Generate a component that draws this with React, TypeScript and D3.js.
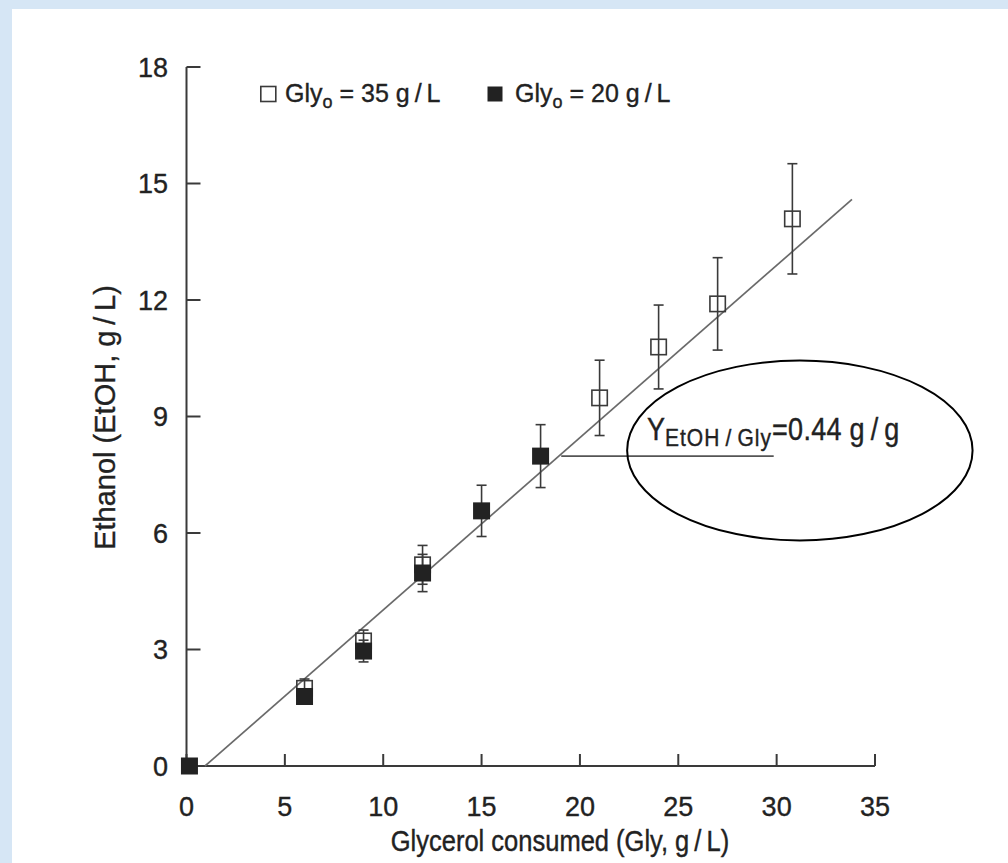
import React from "react";
import * as d3 from "d3";

// ---- data ----
const xTicks = [0, 5, 10, 15, 20, 25, 30, 35];
const yTicks = [0, 3, 6, 9, 12, 15, 18];

// Gly0 = 35 g/L (open squares)
const openX = [6, 9, 12, 21, 24, 27, 30.8];
const openY = [2.0, 3.22, 5.18, 9.48, 10.79, 11.9, 14.09];
const openErr = [0.24, 0.28, 0.5, 0.97, 1.08, 1.19, 1.42];

// Gly0 = 20 g/L (filled squares)
const filledX = [0.15, 6, 9, 12, 15, 18];
const filledY = [0, 1.79, 2.96, 4.97, 6.57, 7.98];
const filledErr = [0, 0, 0.28, 0.48, 0.66, 0.81];

// linear fit (yield 0.44 g/g)
const fitX = [0.94, 33.83];
const fitY = [0, 14.59];

// annotation leader line and ellipse extent (data units)
const leaderX = [19.05, 29.85];
const leaderY = 7.98;
const ellipseX = [22.4, 39.96];
const ellipseY = [5.81, 10.44];

const W = 1008;
const H = 863;
const TS = "\u2009"; // thin space around slashes

export default function App() {
  const x = d3.scaleLinear().domain([0, 35]).range([186.5, 875]);
  const y = d3.scaleLinear().domain([0, 18]).range([766, 67]);
  const axisColor = "#3a3a3a";
  const textColor = "#222";
  const font = "'Liberation Sans', Arial, Helvetica, sans-serif";
  const half = 8.5;
  const cap = 5;
  const tStroke = { stroke: textColor, strokeWidth: 0.35 };

  const line = d3.line<[number, number]>().x((d) => x(d[0])).y((d) => y(d[1]));
  const fitPts: [number, number][] = fitX.map((v, i) => [v, fitY[i]]);

  const errBar = (cx: number, cy: number, e: number, key: string) => {
    if (e <= 0) return null;
    const px = x(cx);
    const top = y(cy + e);
    const bot = y(cy - e);
    return (
      <g key={key} stroke={axisColor} strokeWidth={1.6}>
        <line x1={px} x2={px} y1={top} y2={bot} />
        <line x1={px - cap} x2={px + cap} y1={top} y2={top} />
        <line x1={px - cap} x2={px + cap} y1={bot} y2={bot} />
      </g>
    );
  };

  const ecx = (x(ellipseX[0]) + x(ellipseX[1])) / 2;
  const ecy = (y(ellipseY[0]) + y(ellipseY[1])) / 2;
  const erx = (x(ellipseX[1]) - x(ellipseX[0])) / 2;
  const ery = (y(ellipseY[0]) - y(ellipseY[1])) / 2;

  return (
    <svg
      width={W}
      height={H}
      style={{ position: "absolute", left: 0, top: 0 }}
      fontFamily={font}
    >
      <rect x={0} y={0} width={W} height={H} fill="#d6e6f5" />
      <rect x={12} y={9} width={W - 12} height={H - 9} fill="#ffffff" />

      {/* axes */}
      <line x1={x(0)} x2={x(0)} y1={y(18)} y2={y(0)} stroke={axisColor} strokeWidth={2} />
      <line x1={x(0)} x2={x(35)} y1={y(0)} y2={y(0)} stroke={axisColor} strokeWidth={2} />
      {yTicks.map((t) => (
        <g key={"yt" + t}>
          <line x1={x(0)} x2={x(0) + 14} y1={y(t)} y2={y(t)} stroke={axisColor} strokeWidth={2} />
          <text x={168} y={y(t)} dy="0.36em" textAnchor="end" fontSize={27} fill={textColor} {...tStroke}>
            {t}
          </text>
        </g>
      ))}
      {xTicks.map((t) => (
        <g key={"xt" + t}>
          <line x1={x(t)} x2={x(t)} y1={y(0)} y2={y(0) - 12} stroke={axisColor} strokeWidth={2} />
          <text x={x(t)} y={816} textAnchor="middle" fontSize={27} fill={textColor} {...tStroke}>
            {t}
          </text>
        </g>
      ))}
      <g transform="translate(560,851) scale(1,1.16)">
        <text x={0} y={0} textAnchor="middle" fontSize={25.5} fill={textColor} {...tStroke}>
          {`Glycerol consumed (Gly, g${TS}/${TS}L)`}
        </text>
      </g>
      <text
        transform={`translate(115,417.5) rotate(-90)`}
        textAnchor="middle"
        fontSize={29}
        fill={textColor}
        {...tStroke}
      >
        {`Ethanol (EtOH, g${TS}/${TS}L)`}
      </text>

      {/* fit line */}
      <path d={line(fitPts) || ""} stroke="#6a6a6a" strokeWidth={1.7} fill="none" />
      <line
        x1={x(leaderX[0])}
        x2={x(leaderX[1])}
        y1={y(leaderY)}
        y2={y(leaderY)}
        stroke="#555"
        strokeWidth={1.6}
      />

      {/* error bars */}
      {openX.map((v, i) => errBar(v, openY[i], openErr[i], "eo" + i))}
      {filledX.map((v, i) => errBar(v, filledY[i], filledErr[i], "ef" + i))}

      {/* markers */}
      {openX.map((v, i) => (
        <rect
          key={"o" + i}
          x={x(v) - half + 0.8}
          y={y(openY[i]) - half + 0.8}
          width={2 * half - 1.6}
          height={2 * half - 1.6}
          fill="none"
          stroke={axisColor}
          strokeWidth={1.6}
        />
      ))}
      {filledX.map((v, i) => (
        <rect
          key={"f" + i}
          x={x(v) - half}
          y={y(filledY[i]) - half}
          width={2 * half}
          height={2 * half}
          fill="#222"
        />
      ))}

      {/* legend */}
      <rect x={260.8} y={86.5} width={15} height={15} fill="none" stroke={axisColor} strokeWidth={1.6} />
      <text x={285} y={102} fontSize={25} fill={textColor} {...tStroke}>
        Gly
        <tspan fontSize={18} dy={6}>o</tspan>
        <tspan dy={-6}>{` = 35 g${TS}/${TS}L`}</tspan>
      </text>
      <rect x={487.5} y={86.5} width={15} height={15} fill="#222" />
      <text x={515} y={102} fontSize={25} fill={textColor} {...tStroke}>
        Gly
        <tspan fontSize={18} dy={6}>o</tspan>
        <tspan dy={-6}>{` = 20 g${TS}/${TS}L`}</tspan>
      </text>

      {/* annotation */}
      <ellipse cx={ecx} cy={ecy} rx={erx} ry={ery} fill="none" stroke="#000" strokeWidth={2} />
      <g transform="translate(647,440) scale(1,1.18)">
        <text x={0} y={0} fontSize={27} fill={textColor} {...tStroke}>
          Y
          <tspan fontSize={21} dy={5.5} letterSpacing={1}>{`EtOH${TS}/${TS}Gly`}</tspan>
          <tspan dy={-5.5} letterSpacing={0.3}>{`=0.44 g${TS}/${TS}g`}</tspan>
        </text>
      </g>
    </svg>
  );
}
